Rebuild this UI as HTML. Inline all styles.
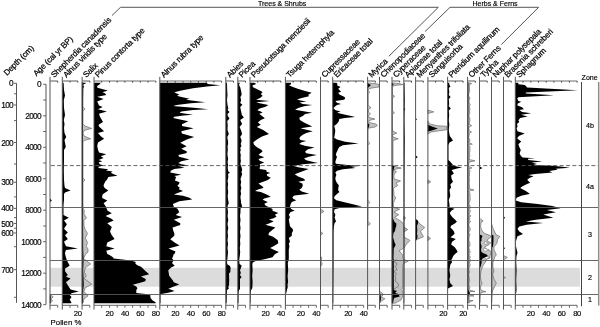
<!DOCTYPE html>
<html><head><meta charset="utf-8"><style>
html,body{margin:0;padding:0;background:#fff;width:600px;height:327px;overflow:hidden}
svg{display:block;filter:grayscale(1)}
text{font-family:"Liberation Sans",sans-serif;fill:#000}
.lab{font-size:8.2px;letter-spacing:-0.2px;stroke:#000;stroke-width:0.22px}
.n{font-size:7.7px;letter-spacing:-0.35px;stroke:#000;stroke-width:0.15px}
.n2{font-size:8.3px;letter-spacing:-0.7px;stroke:#000;stroke-width:0.15px}
.n3{font-size:7.8px;stroke:#000;stroke-width:0.15px}
.h{font-size:7.0px;stroke:#000;stroke-width:0.15px}
.z{font-size:7.1px;stroke:#000;stroke-width:0.15px}
</style></head><body>
<svg width="600" height="327" viewBox="0 0 600 327">
<rect width="600" height="327" fill="#fff"/>
<rect x="50.5" y="267.8" width="529.5" height="18.9" fill="#dcdcdc"/>
<polygon points="82.1,82.7 83.0,82.7 83.0,107.0 85.0,109.2 83.0,111.0 83.0,124.0 85.0,126.0 91.7,128.4 84.0,130.5 83.0,133.0 84.0,136.0 90.7,138.8 84.0,140.5 83.0,142.0 83.0,178.0 85.0,180.0 83.0,182.0 83.0,205.0 83.0,208.0 84.3,210.5 84.0,214.0 86.5,217.8 83.9,220.6 84.0,226.0 85.2,229.8 87.6,233.4 85.2,238.0 87.6,242.6 86.2,246.2 88.0,249.0 88.0,252.0 85.3,254.8 83.5,258.4 87.1,261.2 90.7,263.9 85.3,267.6 84.3,272.2 86.2,275.8 84.3,278.6 91.7,284.1 85.3,287.7 84.0,291.4 88.0,296.0 84.0,298.8 83.0,303.2 82.1,303.2" fill="#c2c2c2" stroke="#5a5a5a" stroke-width="0.6"/>
<polygon points="50.0,294.5 50.0,294.5 53.2,296.9 51.0,298.8 52.6,300.8 50.2,303.2 50.0,303.2" fill="#c2c2c2" stroke="#5a5a5a" stroke-width="0.6"/>
<polygon points="320.5,209.0 320.5,209.0 324.0,211.4 320.5,213.5 320.5,213.5" fill="#c2c2c2" stroke="#5a5a5a" stroke-width="0.6"/>
<polygon points="320.5,231.5 320.5,231.5 322.9,233.4 320.5,235.5 320.5,235.5" fill="#c2c2c2" stroke="#5a5a5a" stroke-width="0.6"/>
<polygon points="320.5,256.0 320.5,256.0 321.8,258.0 321.0,261.0 322.3,264.0 320.5,267.0 320.5,267.0" fill="#c2c2c2" stroke="#5a5a5a" stroke-width="0.6"/>
<polygon points="367.6,82.9 367.6,82.9 375.0,83.5 379.0,84.5 379.0,87.0 372.0,88.0 368.5,89.0 368.2,91.0 369.8,92.3 368.2,93.5 368.2,105.0 370.5,107.3 370.8,108.0 368.3,109.5 368.5,112.0 370.5,113.8 368.5,115.5 369.0,117.5 374.9,119.0 369.0,120.5 368.5,122.0 371.0,123.0 376.0,124.0 377.3,125.5 375.0,127.0 369.0,128.0 368.2,129.5 368.0,131.0 368.0,141.0 369.6,143.3 368.0,145.5 368.0,200.0 369.7,202.4 368.0,204.5 368.0,221.5 370.4,223.7 367.6,226.0 367.6,226.0" fill="#c2c2c2" stroke="#5a5a5a" stroke-width="0.6"/>
<polygon points="379.5,291.0 379.5,291.0 383.4,294.2 381.5,296.9 384.9,298.8 380.7,301.5 379.8,303.2 379.5,303.2" fill="#c2c2c2" stroke="#5a5a5a" stroke-width="0.6"/>
<polygon points="392.0,82.9 392.3,82.9 398.0,83.5 403.0,84.5 395.0,85.5 392.5,86.5 392.5,94.5 394.6,96.3 392.5,98.0 392.5,111.0 394.4,112.7 392.5,114.4 392.5,131.0 396.8,133.0 392.5,135.0 393.0,137.0 398.3,138.8 393.0,140.5 393.0,166.0 401.4,168.1 394.0,169.5 396.5,172.0 394.0,174.0 394.0,179.0 400.5,180.9 396.0,183.0 397.8,185.5 393.5,188.0 394.0,194.0 394.0,196.0 396.0,197.7 394.5,200.0 393.3,203.7 393.5,207.3 399.7,209.2 394.0,212.0 398.8,214.7 394.5,217.4 397.8,219.3 399.8,220.5 403.2,223.3 403.9,227.4 407.3,229.4 403.9,231.5 403.9,234.3 403.9,237.0 410.0,240.4 406.6,244.0 403.9,248.0 399.0,250.8 401.5,253.2 402.7,255.0 402.7,258.0 404.8,259.8 408.2,261.2 405.4,262.6 403.4,263.9 402.7,266.0 402.7,288.0 402.0,289.4 402.5,292.0 403.0,294.0 402.5,297.0 401.0,300.0 395.0,303.2 392.0,303.2" fill="#c2c2c2" stroke="#5a5a5a" stroke-width="0.6"/>
<polygon points="403.8,216.0 403.8,216.0 405.6,218.0 403.8,220.0 403.8,220.0" fill="#c2c2c2" stroke="#5a5a5a" stroke-width="0.6"/>
<polygon points="403.8,227.0 403.8,227.0 407.5,229.6 403.8,232.0 403.8,232.0" fill="#c2c2c2" stroke="#5a5a5a" stroke-width="0.6"/>
<polygon points="415.6,219.0 415.6,219.0 417.4,220.3 419.2,223.3 424.7,227.6 420.4,231.3 423.5,236.8 417.4,239.3 415.6,240.5 415.6,240.5" fill="#c2c2c2" stroke="#5a5a5a" stroke-width="0.6"/>
<polygon points="427.9,110.0 428.0,110.0 433.8,111.9 428.0,113.5 427.9,113.5" fill="#c2c2c2" stroke="#5a5a5a" stroke-width="0.6"/>
<polygon points="427.9,121.0 428.0,121.0 428.6,122.2 430.0,124.0 437.3,125.7 446.7,126.3 446.7,129.8 438.5,130.9 431.0,132.0 429.2,133.3 428.0,134.0 427.9,134.0" fill="#c2c2c2" stroke="#5a5a5a" stroke-width="0.6"/>
<polygon points="427.9,180.0 428.0,180.0 430.8,181.8 428.0,183.5 427.9,183.5" fill="#c2c2c2" stroke="#5a5a5a" stroke-width="0.6"/>
<polygon points="427.9,236.5 428.0,236.5 430.5,238.5 428.0,240.5 427.9,240.5" fill="#c2c2c2" stroke="#5a5a5a" stroke-width="0.6"/>
<polygon points="467.6,82.7 469.1,82.7 471.7,83.5 469.2,84.8 469.5,84.9 469.3,87.1 469.6,89.3 469.6,91.5 468.8,93.7 468.7,95.9 470.0,98.1 469.1,100.3 469.1,102.5 470.2,104.7 469.4,106.9 470.0,109.1 469.4,111.3 469.7,113.5 468.9,115.7 469.7,117.9 470.0,120.1 469.5,122.3 469.2,124.4 469.8,124.5 471.7,125.7 469.7,126.7 469.2,127.0 468.8,128.9 469.2,130.7 469.8,131.1 471.5,132.0 469.2,133.3 469.2,135.5 468.7,137.7 470.0,139.9 469.4,142.1 469.2,142.9 472.3,144.2 469.8,144.3 469.2,145.5 470.0,146.5 469.8,148.7 470.1,150.9 469.3,153.1 469.9,155.3 469.4,157.5 469.2,159.5 470.1,159.7 475.0,160.8 470.0,161.9 469.2,162.1 468.8,164.1 468.9,166.3 469.2,166.7 472.0,168.0 469.0,168.5 469.2,169.3 470.1,170.7 469.4,172.9 469.6,175.1 469.2,177.3 469.5,179.5 469.3,181.7 469.2,183.9 469.6,186.1 469.6,188.3 469.2,188.7 474.0,190.0 470.1,190.5 469.2,191.3 469.7,192.7 470.1,194.9 470.0,197.1 470.2,199.3 469.7,201.5 468.9,203.7 470.0,205.9 470.1,208.1 469.2,209.7 470.1,210.3 470.8,211.0 469.2,212.3 469.6,212.5 469.2,214.7 471.0,216.0 469.0,216.9 469.2,217.3 469.9,219.1 469.2,220.2 469.6,221.3 470.8,221.5 469.2,222.8 469.1,223.5 468.8,225.7 470.0,227.9 470.2,230.1 468.8,232.3 469.9,234.5 469.3,236.7 468.9,238.9 469.1,241.1 469.9,243.3 470.0,245.5 468.8,247.7 469.6,249.9 469.2,250.7 470.6,252.0 468.8,252.1 469.2,253.3 469.8,254.3 469.2,255.7 469.2,256.5 470.6,257.0 469.2,258.3 470.0,258.7 470.2,260.9 469.5,263.1 470.2,265.3 469.2,267.5 468.8,269.7 469.6,271.9 468.7,274.1 469.0,276.3 469.3,278.5 469.6,280.7 468.9,282.9 468.8,285.1 470.0,287.3 469.2,289.5 469.2,290.1 475.0,291.4 470.1,291.7 469.2,292.7 470.0,293.9 469.2,294.7 474.0,296.0 469.3,296.1 469.2,297.3 469.4,298.3 469.2,299.3 469.5,300.5 473.0,300.6 469.2,301.9 469.7,302.7 467.6,302.7" fill="#c2c2c2" stroke="#5a5a5a" stroke-width="0.6"/>
<polygon points="479.5,218.0 479.6,218.0 481.0,219.5 483.2,221.0 481.0,222.5 480.9,224.5 480.5,226.0 481.1,228.7 482.3,231.1 484.8,233.6 490.2,235.4 490.8,237.2 488.0,239.0 487.1,240.9 490.8,242.7 489.0,244.6 484.7,247.0 485.9,248.9 490.2,250.7 490.8,252.5 490.2,255.0 490.0,256.8 490.0,258.0 486.5,259.3 485.9,260.5 485.3,262.3 484.0,264.0 482.8,266.0 481.0,270.9 480.4,277.0 481.0,280.7 482.2,283.7 481.0,285.0 480.4,288.0 481.5,290.5 485.9,291.7 481.0,292.5 480.3,296.0 480.0,303.2 479.5,303.2" fill="#c2c2c2" stroke="#5a5a5a" stroke-width="0.6"/>
<polygon points="491.5,224.0 491.5,224.0 492.0,225.0 493.1,228.7 494.9,232.3 496.1,234.8 500.0,236.6 498.8,237.8 497.5,239.7 496.9,243.3 494.4,246.4 493.8,248.2 494.4,250.7 495.7,253.1 496.3,255.0 495.0,256.5 494.5,258.0 493.8,259.9 493.0,262.3 492.7,266.0 493.9,270.9 492.7,274.6 493.9,279.0 496.3,283.1 495.1,285.5 493.9,288.0 492.7,290.5 492.2,294.0 491.8,303.2 491.5,303.2" fill="#c2c2c2" stroke="#5a5a5a" stroke-width="0.6"/>
<polygon points="503.5,255.5 503.5,255.5 507.3,257.4 503.5,259.9 503.5,259.9" fill="#c2c2c2" stroke="#5a5a5a" stroke-width="0.6"/>
<polygon points="503.5,276.4 503.5,276.4 505.5,277.6 503.5,278.9 503.5,278.9" fill="#c2c2c2" stroke="#5a5a5a" stroke-width="0.6"/>
<polygon points="485,241.5 488.5,243 485.5,244.6 484.3,243" fill="#fff" stroke="#666" stroke-width="0.5"/>
<polygon points="484,248 488.8,249.8 485,251.5 483.5,249.8" fill="#fff" stroke="#666" stroke-width="0.5"/>
<polygon points="485.5,255.8 489.5,257.5 486,259.2 485,257.5" fill="#fff" stroke="#666" stroke-width="0.5"/>
<polyline points="396.5,259.1 394.4,261.9 397.2,263.9 395.1,266.7 397.2,269.4 393.8,271.5 396.5,273.6 395.1,275.6 395.8,278.4 395.1,281.1 397.9,283.2 398.6,286 395.8,288 393.8,289.4" fill="none" stroke="#555" stroke-width="0.6"/>
<polygon points="94.0,82.7 100.8,82.7 99.5,84.5 97.1,86.1 97.4,87.8 107.8,90.5 102.5,92.3 104.8,93.2 106.3,94.9 97.2,96.7 103.6,99.1 97.2,101.5 99.0,105.5 102.7,107.0 98.0,109.2 106.9,111.5 99.0,113.8 99.9,116.5 103.0,122.0 98.6,124.8 99.0,126.6 104.1,131.2 98.0,133.0 100.8,136.3 104.1,138.8 98.0,142.4 97.2,146.1 98.0,149.8 99.0,152.5 106.3,154.3 100.8,156.2 103.6,158.0 98.6,160.0 102.2,161.2 98.6,162.4 99.8,164.3 103.5,165.5 98.6,166.7 98.6,168.0 108.3,169.2 106.0,170.4 112.6,171.6 110.8,172.8 113.2,174.1 117.5,175.7 108.3,177.1 107.1,179.6 105.3,181.4 104.1,183.9 103.5,185.7 104.7,188.1 108.3,190.6 105.3,192.4 102.8,194.3 102.2,196.1 102.2,197.9 107.3,200.4 103.6,203.2 106.3,207.2 107.3,210.5 111.8,213.3 105.5,216.0 111.0,218.5 113.7,220.6 107.3,223.3 111.8,227.0 110.0,231.6 111.8,235.3 114.6,238.9 107.3,242.6 106.3,246.2 114.6,248.6 106.3,250.8 107.3,254.0 109.5,255.0 113.0,257.3 113.6,258.5 124.7,259.7 131.7,260.8 135.8,262.0 135.2,263.2 136.9,264.9 141.0,266.7 142.8,268.4 145.7,271.3 149.2,274.3 141.0,276.6 145.7,278.9 145.7,280.1 145.2,281.2 141.0,282.4 132.8,284.7 136.3,286.4 137.5,288.2 136.3,289.9 136.3,293.1 145.7,294.0 150.3,295.2 150.5,298.0 152.7,300.4 155.6,302.2 155.6,303.3 94.0,303.3" fill="#000"/>
<polygon points="159.8,82.7 207.0,82.7 207.6,84.1 220.4,85.3 207.0,86.4 193.0,88.2 181.3,90.5 174.3,92.3 176.7,93.4 179.6,94.6 177.2,95.2 178.4,96.3 183.7,97.5 189.5,98.7 186.0,99.8 195.3,101.0 205.3,102.2 190.7,103.3 176.7,105.1 173.2,105.9 181.3,106.8 196.5,108.0 208.2,109.2 193.0,110.1 181.3,111.5 179.6,112.7 186.0,113.8 193.0,114.8 183.7,115.6 174.3,116.8 173.2,118.0 180.0,119.5 188.3,121.3 182.0,124.2 182.0,126.0 193.6,128.3 181.3,131.2 181.9,133.5 194.2,137.0 187.3,139.3 180.2,142.8 186.6,146.3 181.3,148.7 186.0,151.0 187.2,152.0 186.0,153.2 178.4,154.9 179.0,156.7 183.1,157.8 189.5,159.6 181.3,161.3 178.4,163.1 181.3,164.3 188.9,165.4 179.0,166.6 184.8,167.8 174.3,168.9 170.8,170.7 170.3,172.4 175.5,173.6 181.3,174.8 174.3,175.9 176.1,177.1 175.5,178.8 174.9,180.6 179.6,182.3 179.0,184.1 177.3,185.8 179.6,187.6 179.0,189.3 183.0,191.0 175.7,193.8 173.8,194.6 183.0,195.8 189.4,197.7 192.2,199.5 179.3,201.3 172.9,204.1 173.8,206.8 177.5,208.7 179.3,212.3 175.7,215.1 182.1,216.9 173.8,219.7 180.3,223.3 180.2,225.0 172.6,227.5 173.2,230.4 174.3,233.3 174.3,235.7 170.3,239.2 175.0,242.7 179.6,245.6 168.5,248.5 175.5,251.4 174.3,254.3 172.9,254.8 173.5,255.5 172.0,258.4 173.8,260.3 172.0,263.0 174.7,265.8 171.1,267.6 168.3,270.3 169.2,275.8 172.9,280.4 173.8,282.3 179.3,284.6 173.8,286.5 168.3,288.7 174.7,290.9 168.3,292.7 161.0,294.0 160.5,295.0 160.5,303.2 159.8,303.2" fill="#000"/>
<polygon points="62.3,82.7 63.6,82.7 64.0,90.0 65.0,95.4 63.8,100.0 64.0,108.0 65.0,115.0 63.8,120.0 64.5,124.0 64.0,128.0 64.5,133.0 66.2,137.0 64.5,140.0 65.8,147.0 64.0,150.0 64.0,160.0 63.8,170.0 64.0,180.0 64.5,186.0 65.0,188.0 70.6,190.6 65.0,192.5 64.0,194.0 64.0,200.0 63.5,205.0 63.5,215.0 68.8,217.8 64.0,220.6 66.9,224.2 64.0,228.8 67.8,232.5 65.0,235.3 67.8,238.9 64.0,241.7 66.0,246.2 77.9,248.6 66.0,249.9 65.0,252.7 65.1,254.0 66.0,257.5 66.9,260.3 69.7,265.8 65.1,268.5 65.1,271.3 67.8,274.9 66.0,276.8 70.6,278.6 66.0,282.3 68.8,286.8 70.6,289.6 78.8,291.4 71.5,293.3 69.7,295.1 71.5,296.9 69.7,299.7 71.5,302.4 71.0,303.2 62.3,303.2" fill="#000"/>
<polygon points="82.1,82.7 85.8,82.7 85.6,83.6 83.4,84.3 83.3,86.0 84.3,86.9 83.2,87.8 83.0,100.0 83.0,200.0 83.2,250.0 83.6,260.0 83.2,270.0 83.8,285.0 83.2,290.0 83.0,303.2 82.1,303.2" fill="#000"/>
<polygon points="50.0,198.5 50.0,198.5 51.8,200.4 50.0,202.3 50.0,202.3" fill="#000"/>
<polygon points="50.0,294.5 50.0,294.5 50.8,297.0 50.6,300.0 50.5,303.2 50.0,303.2" fill="#000"/>
<polygon points="225.8,82.7 227.0,82.7 227.2,90.0 227.5,95.0 227.0,100.0 227.5,105.0 228.3,108.4 227.5,110.0 229.5,112.1 227.5,114.0 227.8,116.0 229.5,118.5 227.3,121.0 227.7,125.0 227.5,130.0 228.8,134.1 227.3,137.0 227.6,139.0 228.0,141.0 228.1,144.0 227.6,146.0 227.8,150.0 227.4,154.0 227.8,157.0 228.1,159.0 227.6,162.0 228.0,165.0 227.7,168.0 228.3,171.5 229.9,172.6 228.0,174.0 228.3,177.0 227.6,181.0 228.1,184.0 227.7,188.0 228.2,192.0 227.7,196.0 228.0,199.0 228.5,202.0 228.8,203.4 227.8,205.0 227.5,208.0 228.0,212.0 227.6,216.0 228.2,220.0 227.5,224.0 228.2,228.0 227.6,232.0 228.0,236.0 227.5,240.0 228.0,244.0 227.5,248.0 228.0,252.0 227.5,258.0 227.0,262.0 227.3,264.3 230.0,266.0 230.6,268.0 230.3,272.0 229.0,273.6 229.2,280.0 229.0,285.4 228.3,286.5 228.8,288.8 227.0,290.0 226.6,303.2 225.8,303.2" fill="#000"/>
<polygon points="237.8,82.8 239.8,82.8 239.0,85.0 240.2,87.3 241.1,91.0 241.7,94.7 240.4,97.0 241.1,100.2 240.2,102.9 242.4,104.8 240.2,107.0 241.1,111.2 241.9,114.9 243.9,117.6 240.2,120.0 242.1,124.0 239.6,127.0 241.1,130.5 242.1,134.1 240.2,137.0 241.2,139.0 241.6,141.0 240.7,144.0 241.5,146.0 240.2,148.0 240.8,150.0 240.1,152.0 240.8,155.0 240.5,158.0 240.9,161.0 240.3,164.0 241.0,166.0 241.8,168.0 242.2,170.0 241.4,172.0 242.2,174.0 241.5,176.0 240.5,179.0 241.2,182.0 240.6,185.0 241.3,188.0 240.6,191.0 241.1,194.0 240.5,196.0 240.5,198.0 241.0,201.0 241.0,203.0 241.8,205.0 242.0,207.0 240.5,208.5 240.5,212.0 240.0,216.0 240.5,220.0 240.0,224.0 240.5,228.0 240.0,232.0 240.5,236.0 240.0,240.0 240.3,244.0 239.8,248.0 240.2,252.0 239.8,256.0 239.2,260.0 239.5,264.0 241.6,265.5 241.3,267.0 240.0,270.2 240.8,272.8 240.0,275.3 241.6,277.0 240.0,279.0 240.0,282.0 240.0,288.8 239.0,290.5 238.6,292.0 238.5,303.2 237.8,303.2" fill="#000"/>
<polygon points="250.0,82.7 254.4,82.7 256.2,84.1 252.7,85.3 252.7,87.0 256.2,88.8 260.8,91.1 262.6,92.3 260.8,94.0 262.6,95.8 260.8,97.5 258.5,98.7 256.2,99.8 269.6,101.0 256.2,102.2 259.7,103.3 268.4,105.1 265.5,106.8 259.7,108.6 257.3,110.3 260.8,111.5 262.6,112.7 259.2,113.8 260.8,115.0 262.0,116.0 264.9,118.3 260.8,120.1 257.9,122.4 260.8,124.8 256.8,127.1 263.2,130.0 269.0,134.1 262.0,136.4 257.3,139.3 253.3,142.3 253.9,144.6 257.3,147.5 261.4,149.8 262.6,151.6 259.7,153.8 258.5,154.9 264.3,157.3 258.5,159.0 259.7,160.8 264.3,162.5 259.7,164.3 260.3,166.0 259.7,167.8 259.7,168.9 266.1,170.1 266.7,171.8 270.2,173.0 266.7,174.2 267.3,175.9 270.8,177.7 267.8,180.0 263.2,181.8 258.5,183.5 260.8,185.3 263.2,187.0 263.2,188.0 257.3,189.8 255.0,190.9 260.8,192.1 266.7,194.4 270.8,196.8 264.3,198.5 262.6,199.7 267.8,202.0 264.3,203.8 265.5,205.5 269.0,207.3 272.5,209.0 272.5,210.8 278.3,213.1 274.8,214.8 276.6,216.6 273.7,218.3 269.0,219.5 273.7,221.3 270.2,223.0 265.5,224.8 269.0,225.8 275.4,227.5 272.5,229.8 269.0,232.8 268.4,235.1 273.1,236.8 277.8,240.3 278.3,243.3 274.8,245.6 270.2,247.9 273.7,249.7 278.9,252.0 274.8,254.3 272.5,257.3 265.5,259.0 259.7,260.2 255.0,261.3 252.8,262.5 252.3,264.0 252.6,270.0 252.2,276.0 252.6,282.0 252.3,288.0 251.0,290.5 250.6,294.5 250.5,303.2 250.0,303.2" fill="#000"/>
<polygon points="285.4,82.8 291.0,82.8 291.0,84.3 289.0,85.3 292.3,86.7 297.7,88.7 304.3,90.7 311.7,92.7 308.3,94.7 309.0,96.3 301.7,98.0 297.0,99.6 300.5,100.4 306.3,101.6 299.4,102.4 302.8,103.9 312.2,105.1 304.0,106.3 298.2,108.0 295.1,109.8 302.2,110.9 312.2,112.7 305.2,114.1 302.8,116.0 299.3,117.8 299.9,120.1 304.0,122.4 308.7,124.8 312.2,126.5 300.5,128.3 307.5,130.0 312.8,131.2 306.3,132.9 302.8,134.7 300.5,136.4 299.3,138.2 300.5,139.9 306.3,141.1 301.6,142.3 299.3,144.0 304.8,145.8 314.5,147.5 308.0,149.3 305.6,151.0 305.2,152.0 306.3,153.2 316.8,154.9 308.7,156.7 304.0,158.4 306.3,160.2 313.3,161.9 318.0,163.1 302.8,164.3 294.1,166.0 298.2,167.2 308.7,168.9 304.0,170.7 299.3,172.4 294.7,174.2 298.2,176.5 304.0,178.8 305.2,180.6 298.2,181.8 302.3,183.5 302.8,185.8 301.7,188.0 299.3,189.8 301.7,191.5 309.3,193.8 294.4,195.6 292.3,197.3 293.5,199.1 296.4,200.3 291.8,202.0 290.6,204.3 290.0,206.7 291.2,209.0 294.7,210.8 290.6,211.9 288.8,214.8 290.0,217.2 288.8,219.5 289.4,223.0 290.0,226.3 292.9,229.3 292.9,231.0 291.8,233.3 291.8,235.7 288.8,238.0 290.0,241.5 288.8,243.8 289.4,246.2 288.8,249.7 288.8,254.3 288.8,259.0 288.3,261.3 287.8,263.0 288.2,270.0 287.6,276.0 288.1,282.0 287.5,285.0 287.8,286.8 285.9,294.5 285.9,303.2 285.4,303.2" fill="#000"/>
<polygon points="332.7,82.7 336.4,82.7 337.6,84.1 337.0,85.3 340.5,87.0 338.2,88.8 339.9,90.5 341.1,91.7 338.2,92.8 339.4,94.6 344.6,96.9 345.2,98.7 343.7,99.8 335.3,101.0 337.0,102.8 341.1,103.9 337.0,105.1 334.7,106.8 333.5,108.6 335.8,110.3 340.5,111.5 337.0,112.7 344.2,114.4 352.3,116.2 355.0,117.0 345.0,118.0 339.3,119.0 338.8,121.3 337.0,123.7 334.1,126.0 334.7,127.8 335.3,130.7 334.7,135.3 334.1,137.7 337.0,139.4 345.2,141.8 358.6,143.5 342.8,145.3 339.3,147.0 338.2,148.8 337.5,150.5 336.4,152.7 335.8,155.0 337.0,156.7 336.4,158.5 335.8,160.3 335.3,162.0 335.8,163.8 347.5,164.9 361.5,165.7 351.0,166.7 355.7,168.1 342.8,169.2 337.0,170.8 335.3,172.5 336.4,174.8 335.8,176.6 335.3,178.3 335.8,180.7 337.0,183.0 338.8,185.3 338.1,190.0 339.4,192.1 337.0,194.1 334.6,196.2 334.0,198.3 336.3,200.3 345.6,202.4 353.9,204.4 362.1,206.5 339.5,207.9 334.6,209.3 334.0,212.0 335.4,214.8 334.6,217.5 336.0,221.6 334.6,223.0 334.0,225.8 333.6,231.3 333.6,260.0 333.3,303.2 332.7,303.2" fill="#000"/>
<polygon points="367.6,83.3 367.6,83.3 371.0,85.0 368.3,87.5 367.6,88.2 367.6,88.2" fill="#000"/>
<polygon points="367.6,122.8 367.6,122.8 369.3,124.5 369.0,127.3 367.6,128.2 367.6,128.2" fill="#000"/>
<polygon points="379.5,292.0 379.5,292.0 380.5,294.5 381.0,298.8 380.0,303.0 379.5,303.0" fill="#000"/>
<polygon points="392.0,83.0 392.0,83.0 393.8,84.5 392.0,86.0 392.0,86.0" fill="#000"/>
<polygon points="392.0,165.0 392.0,165.0 394.5,166.5 393.5,170.0 393.0,175.0 392.8,218.0 394.5,221.9 396.3,223.5 396.3,226.0 395.5,228.0 395.0,231.0 393.5,232.9 393.0,237.0 393.5,239.0 394.2,241.0 394.5,242.5 395.6,244.5 395.0,246.5 393.8,248.0 393.5,258.0 393.8,260.0 393.8,290.0 397.0,291.0 395.0,293.0 398.5,294.0 399.7,296.4 394.0,298.0 393.0,303.2 392.0,303.2" fill="#000"/>
<polygon points="403.8,108.0 403.8,108.0 405.4,109.3 403.8,110.6 403.8,110.6" fill="#000"/>
<polygon points="403.8,82.7 404.5,82.7 404.8,100.0 404.5,120.0 404.8,140.0 404.5,180.0 404.3,303.2 403.8,303.2" fill="#000"/>
<polygon points="415.6,219.5 415.6,219.5 417.5,220.3 418.0,221.5 418.0,223.3 417.0,226.0 417.3,230.0 417.0,234.0 417.5,236.0 417.3,238.5 416.2,240.0 415.6,240.5 415.6,240.5" fill="#000"/>
<polygon points="415.6,155.5 415.6,155.5 417.8,157.1 415.6,158.7 415.6,158.7" fill="#000"/>
<polygon points="415.6,118.0 415.6,118.0 417.0,119.3 415.6,120.6 415.6,120.6" fill="#000"/>
<polygon points="427.9,124.8 428.0,124.8 432.0,126.5 437.8,128.6 432.0,130.5 428.0,131.6 427.9,131.6" fill="#000"/>
<polygon points="447.6,82.7 449.5,82.7 449.0,84.0 450.4,86.5 448.8,88.0 449.3,92.0 448.8,95.0 450.6,97.0 448.8,99.0 449.2,104.0 448.7,106.0 450.8,108.4 448.8,110.5 449.2,115.0 448.8,120.0 449.3,125.0 448.8,130.0 449.2,133.0 449.8,136.0 451.5,138.2 453.0,140.6 449.5,142.4 448.5,145.0 448.5,160.0 450.3,161.7 453.0,165.0 455.8,166.3 462.2,167.5 458.0,168.3 451.6,169.9 453.9,173.6 451.1,175.4 451.6,179.1 453.0,181.8 450.3,184.6 451.1,187.3 449.5,190.0 450.3,196.0 448.8,200.0 449.5,204.7 449.5,207.6 454.6,208.8 451.6,210.5 449.8,212.8 450.4,214.6 452.2,216.9 454.6,219.3 456.9,221.6 455.2,223.3 451.0,225.7 450.4,227.4 452.2,229.2 454.0,231.5 454.6,233.8 452.8,235.6 450.4,237.3 455.8,238.9 452.1,241.7 451.1,244.4 454.8,247.2 456.7,249.9 457.6,252.0 455.3,253.8 453.4,255.7 452.1,258.4 451.1,260.3 452.1,262.1 450.3,264.8 449.4,270.3 450.3,275.8 449.4,279.5 450.3,283.2 453.0,285.9 449.4,287.7 447.6,288.7 447.6,288.7" fill="#000"/>
<polygon points="467.6,82.7 468.4,82.7 468.3,150.0 468.4,290.0 470.0,293.3 468.4,296.0 468.2,303.2 467.6,303.2" fill="#000"/>
<polygon points="479.5,234.5 479.5,234.5 482.2,235.4 482.2,237.2 481.5,238.0 481.5,240.9 480.6,241.5 480.9,244.0 481.5,245.6 481.5,248.0 481.0,249.5 481.5,252.0 483.0,253.1 486.5,254.5 487.7,255.6 487.2,256.5 484.5,257.5 482.3,258.7 481.6,260.5 481.6,263.0 480.8,266.0 480.1,268.0 480.0,300.0 479.8,303.2 479.5,303.2" fill="#000"/>
<polygon points="479.5,166.5 479.5,166.5 482.5,168.0 479.5,169.5 479.5,169.5" fill="#000"/>
<polygon points="491.5,234.5 491.5,234.5 493.5,235.5 493.5,240.0 493.3,244.0 493.0,246.5 492.2,247.5 492.2,260.0 492.2,292.0 491.5,294.0 491.5,294.0" fill="#000"/>
<polygon points="503.5,216.0 503.5,216.0 505.0,217.8 503.5,219.5 503.5,219.5" fill="#000"/>
<polygon points="503.5,246.8 503.5,246.8 505.0,248.2 503.5,249.6 503.5,249.6" fill="#000"/>
<polygon points="515.3,82.8 518.3,82.8 518.3,84.3 524.8,84.9 526.4,86.5 527.0,87.6 577.8,90.3 525.8,92.5 525.8,93.5 554.0,95.2 518.3,97.3 517.2,98.4 517.5,99.1 518.4,100.9 521.2,101.8 517.5,103.7 517.5,105.5 522.1,107.3 523.9,109.2 519.3,110.1 522.1,111.9 531.3,113.2 521.2,114.7 527.6,116.5 520.2,118.0 518.4,120.2 519.3,122.0 517.1,123.8 517.5,126.6 516.6,128.4 517.5,131.2 524.8,133.4 519.3,135.8 517.5,137.6 517.5,138.8 521.2,141.5 518.4,144.2 519.3,147.0 520.8,150.0 520.2,151.8 519.6,153.5 520.8,155.8 522.5,157.6 535.3,158.2 528.0,158.8 528.3,159.9 542.3,161.4 531.8,162.6 537.1,164.0 533.0,164.9 552.8,165.8 564.5,166.9 569.8,167.7 555.8,168.7 557.5,169.8 549.3,171.0 552.3,172.4 535.3,173.9 528.3,175.1 533.6,176.3 529.5,178.0 527.2,179.8 528.3,180.9 530.1,182.7 526.0,184.4 522.5,186.2 520.2,188.0 525.8,191.0 529.4,193.4 529.4,194.0 521.2,195.8 516.6,197.7 515.8,200.4 521.2,202.3 537.7,204.1 552.3,205.9 560.6,208.3 546.8,210.1 556.0,212.3 543.2,214.5 553.3,217.8 535.8,219.7 525.8,221.5 543.2,223.0 526.7,224.8 519.3,226.6 517.5,228.8 519.3,231.6 523.0,234.0 517.5,236.2 516.6,238.9 515.8,241.7 515.8,245.3 516.6,249.0 517.5,252.7 516.5,256.0 516.2,262.0 516.6,270.0 516.2,280.0 516.6,290.0 516.0,294.0 515.8,303.2 515.3,303.2" fill="#000"/>
<line x1="50" y1="165.6" x2="598.5" y2="165.6" stroke="#555" stroke-width="0.9" stroke-dasharray="4,2.36" stroke-dashoffset="5.56"/>
<line x1="50" y1="207.5" x2="598.5" y2="207.5" stroke="#555" stroke-width="0.9"/>
<line x1="50" y1="260.5" x2="598.5" y2="260.5" stroke="#555" stroke-width="0.9"/>
<line x1="50" y1="294.5" x2="598.5" y2="294.5" stroke="#555" stroke-width="0.9"/>
<line x1="50.0" y1="76.8" x2="50.0" y2="309.6" stroke="#555" stroke-width="1"/>
<line x1="50.0" y1="81.0" x2="57.7" y2="81.0" stroke="#6e6e6e" stroke-width="1.15"/>
<line x1="50.0" y1="305.3" x2="57.7" y2="305.3" stroke="#555" stroke-width="0.9"/>
<line x1="57.7" y1="81.0" x2="57.7" y2="82.6" stroke="#333" stroke-width="0.9"/>
<line x1="57.7" y1="305.3" x2="57.7" y2="307.8" stroke="#555" stroke-width="0.9"/>
<text class="lab" transform="translate(54.2,78.1) rotate(-45)">Shepherdia canadensis</text>
<line x1="62.3" y1="76.8" x2="62.3" y2="309.6" stroke="#555" stroke-width="1"/>
<line x1="62.3" y1="81.0" x2="77.8" y2="81.0" stroke="#6e6e6e" stroke-width="1.15"/>
<line x1="62.3" y1="305.3" x2="77.8" y2="305.3" stroke="#555" stroke-width="0.9"/>
<line x1="70.0" y1="81.0" x2="70.0" y2="82.6" stroke="#333" stroke-width="0.9"/>
<line x1="70.0" y1="305.3" x2="70.0" y2="307.8" stroke="#555" stroke-width="0.9"/>
<line x1="77.8" y1="81.0" x2="77.8" y2="82.6" stroke="#333" stroke-width="0.9"/>
<line x1="77.8" y1="305.3" x2="77.8" y2="307.8" stroke="#555" stroke-width="0.9"/>
<text x="77.8" y="315.8" class="n" text-anchor="middle">20</text>
<text class="lab" transform="translate(66.5,78.1) rotate(-45)">Alnus viridis type</text>
<line x1="82.1" y1="76.8" x2="82.1" y2="309.6" stroke="#555" stroke-width="1"/>
<line x1="82.1" y1="81.0" x2="89.8" y2="81.0" stroke="#6e6e6e" stroke-width="1.15"/>
<line x1="82.1" y1="305.3" x2="89.8" y2="305.3" stroke="#555" stroke-width="0.9"/>
<line x1="89.8" y1="81.0" x2="89.8" y2="82.6" stroke="#333" stroke-width="0.9"/>
<line x1="89.8" y1="305.3" x2="89.8" y2="307.8" stroke="#555" stroke-width="0.9"/>
<text class="lab" transform="translate(86.3,78.1) rotate(-45)">Salix</text>
<line x1="94.0" y1="76.8" x2="94.0" y2="309.6" stroke="#555" stroke-width="1"/>
<line x1="94.0" y1="81.0" x2="155.8" y2="81.0" stroke="#6e6e6e" stroke-width="1.15"/>
<line x1="94.0" y1="305.3" x2="155.8" y2="305.3" stroke="#555" stroke-width="0.9"/>
<line x1="101.7" y1="81.0" x2="101.7" y2="82.6" stroke="#333" stroke-width="0.9"/>
<line x1="101.7" y1="305.3" x2="101.7" y2="307.8" stroke="#555" stroke-width="0.9"/>
<line x1="109.5" y1="81.0" x2="109.5" y2="82.6" stroke="#333" stroke-width="0.9"/>
<line x1="109.5" y1="305.3" x2="109.5" y2="307.8" stroke="#555" stroke-width="0.9"/>
<line x1="117.2" y1="81.0" x2="117.2" y2="82.6" stroke="#333" stroke-width="0.9"/>
<line x1="117.2" y1="305.3" x2="117.2" y2="307.8" stroke="#555" stroke-width="0.9"/>
<line x1="124.9" y1="81.0" x2="124.9" y2="82.6" stroke="#333" stroke-width="0.9"/>
<line x1="124.9" y1="305.3" x2="124.9" y2="307.8" stroke="#555" stroke-width="0.9"/>
<line x1="132.6" y1="81.0" x2="132.6" y2="82.6" stroke="#333" stroke-width="0.9"/>
<line x1="132.6" y1="305.3" x2="132.6" y2="307.8" stroke="#555" stroke-width="0.9"/>
<line x1="140.3" y1="81.0" x2="140.3" y2="82.6" stroke="#333" stroke-width="0.9"/>
<line x1="140.3" y1="305.3" x2="140.3" y2="307.8" stroke="#555" stroke-width="0.9"/>
<line x1="148.1" y1="81.0" x2="148.1" y2="82.6" stroke="#333" stroke-width="0.9"/>
<line x1="148.1" y1="305.3" x2="148.1" y2="307.8" stroke="#555" stroke-width="0.9"/>
<line x1="155.8" y1="81.0" x2="155.8" y2="82.6" stroke="#333" stroke-width="0.9"/>
<line x1="155.8" y1="305.3" x2="155.8" y2="307.8" stroke="#555" stroke-width="0.9"/>
<text x="109.5" y="315.8" class="n" text-anchor="middle">20</text>
<text x="124.9" y="315.8" class="n" text-anchor="middle">40</text>
<text x="140.3" y="315.8" class="n" text-anchor="middle">60</text>
<text x="155.8" y="315.8" class="n" text-anchor="middle">80</text>
<text class="lab" transform="translate(98.2,78.1) rotate(-45)">Pinus contorta type</text>
<line x1="159.8" y1="76.8" x2="159.8" y2="309.6" stroke="#555" stroke-width="1"/>
<line x1="159.8" y1="81.0" x2="221.6" y2="81.0" stroke="#6e6e6e" stroke-width="1.15"/>
<line x1="159.8" y1="305.3" x2="221.6" y2="305.3" stroke="#555" stroke-width="0.9"/>
<line x1="167.5" y1="81.0" x2="167.5" y2="82.6" stroke="#333" stroke-width="0.9"/>
<line x1="167.5" y1="305.3" x2="167.5" y2="307.8" stroke="#555" stroke-width="0.9"/>
<line x1="175.2" y1="81.0" x2="175.2" y2="82.6" stroke="#333" stroke-width="0.9"/>
<line x1="175.2" y1="305.3" x2="175.2" y2="307.8" stroke="#555" stroke-width="0.9"/>
<line x1="183.0" y1="81.0" x2="183.0" y2="82.6" stroke="#333" stroke-width="0.9"/>
<line x1="183.0" y1="305.3" x2="183.0" y2="307.8" stroke="#555" stroke-width="0.9"/>
<line x1="190.7" y1="81.0" x2="190.7" y2="82.6" stroke="#333" stroke-width="0.9"/>
<line x1="190.7" y1="305.3" x2="190.7" y2="307.8" stroke="#555" stroke-width="0.9"/>
<line x1="198.4" y1="81.0" x2="198.4" y2="82.6" stroke="#333" stroke-width="0.9"/>
<line x1="198.4" y1="305.3" x2="198.4" y2="307.8" stroke="#555" stroke-width="0.9"/>
<line x1="206.2" y1="81.0" x2="206.2" y2="82.6" stroke="#333" stroke-width="0.9"/>
<line x1="206.2" y1="305.3" x2="206.2" y2="307.8" stroke="#555" stroke-width="0.9"/>
<line x1="213.9" y1="81.0" x2="213.9" y2="82.6" stroke="#333" stroke-width="0.9"/>
<line x1="213.9" y1="305.3" x2="213.9" y2="307.8" stroke="#555" stroke-width="0.9"/>
<line x1="221.6" y1="81.0" x2="221.6" y2="82.6" stroke="#333" stroke-width="0.9"/>
<line x1="221.6" y1="305.3" x2="221.6" y2="307.8" stroke="#555" stroke-width="0.9"/>
<text x="175.2" y="315.8" class="n" text-anchor="middle">20</text>
<text x="190.7" y="315.8" class="n" text-anchor="middle">40</text>
<text x="206.2" y="315.8" class="n" text-anchor="middle">60</text>
<text x="221.6" y="315.8" class="n" text-anchor="middle">80</text>
<text class="lab" transform="translate(164.0,78.1) rotate(-45)">Alnus rubra type</text>
<line x1="225.8" y1="76.8" x2="225.8" y2="309.6" stroke="#555" stroke-width="1"/>
<line x1="225.8" y1="81.0" x2="233.5" y2="81.0" stroke="#6e6e6e" stroke-width="1.15"/>
<line x1="225.8" y1="305.3" x2="233.5" y2="305.3" stroke="#555" stroke-width="0.9"/>
<line x1="233.5" y1="81.0" x2="233.5" y2="82.6" stroke="#333" stroke-width="0.9"/>
<line x1="233.5" y1="305.3" x2="233.5" y2="307.8" stroke="#555" stroke-width="0.9"/>
<text class="lab" transform="translate(230.0,78.1) rotate(-45)">Abies</text>
<line x1="237.8" y1="76.8" x2="237.8" y2="309.6" stroke="#555" stroke-width="1"/>
<line x1="237.8" y1="81.0" x2="245.5" y2="81.0" stroke="#6e6e6e" stroke-width="1.15"/>
<line x1="237.8" y1="305.3" x2="245.5" y2="305.3" stroke="#555" stroke-width="0.9"/>
<line x1="245.5" y1="81.0" x2="245.5" y2="82.6" stroke="#333" stroke-width="0.9"/>
<line x1="245.5" y1="305.3" x2="245.5" y2="307.8" stroke="#555" stroke-width="0.9"/>
<text class="lab" transform="translate(242.0,78.1) rotate(-45)">Picea</text>
<line x1="250.0" y1="76.8" x2="250.0" y2="309.6" stroke="#555" stroke-width="1"/>
<line x1="250.0" y1="81.0" x2="280.9" y2="81.0" stroke="#6e6e6e" stroke-width="1.15"/>
<line x1="250.0" y1="305.3" x2="280.9" y2="305.3" stroke="#555" stroke-width="0.9"/>
<line x1="257.7" y1="81.0" x2="257.7" y2="82.6" stroke="#333" stroke-width="0.9"/>
<line x1="257.7" y1="305.3" x2="257.7" y2="307.8" stroke="#555" stroke-width="0.9"/>
<line x1="265.4" y1="81.0" x2="265.4" y2="82.6" stroke="#333" stroke-width="0.9"/>
<line x1="265.4" y1="305.3" x2="265.4" y2="307.8" stroke="#555" stroke-width="0.9"/>
<line x1="273.2" y1="81.0" x2="273.2" y2="82.6" stroke="#333" stroke-width="0.9"/>
<line x1="273.2" y1="305.3" x2="273.2" y2="307.8" stroke="#555" stroke-width="0.9"/>
<line x1="280.9" y1="81.0" x2="280.9" y2="82.6" stroke="#333" stroke-width="0.9"/>
<line x1="280.9" y1="305.3" x2="280.9" y2="307.8" stroke="#555" stroke-width="0.9"/>
<text x="265.4" y="315.8" class="n" text-anchor="middle">20</text>
<text x="280.9" y="315.8" class="n" text-anchor="middle">40</text>
<text class="lab" transform="translate(254.2,78.1) rotate(-45)">Pseudotsuga menziesii</text>
<line x1="285.4" y1="76.8" x2="285.4" y2="309.6" stroke="#555" stroke-width="1"/>
<line x1="285.4" y1="81.0" x2="316.3" y2="81.0" stroke="#6e6e6e" stroke-width="1.15"/>
<line x1="285.4" y1="305.3" x2="316.3" y2="305.3" stroke="#555" stroke-width="0.9"/>
<line x1="293.1" y1="81.0" x2="293.1" y2="82.6" stroke="#333" stroke-width="0.9"/>
<line x1="293.1" y1="305.3" x2="293.1" y2="307.8" stroke="#555" stroke-width="0.9"/>
<line x1="300.8" y1="81.0" x2="300.8" y2="82.6" stroke="#333" stroke-width="0.9"/>
<line x1="300.8" y1="305.3" x2="300.8" y2="307.8" stroke="#555" stroke-width="0.9"/>
<line x1="308.6" y1="81.0" x2="308.6" y2="82.6" stroke="#333" stroke-width="0.9"/>
<line x1="308.6" y1="305.3" x2="308.6" y2="307.8" stroke="#555" stroke-width="0.9"/>
<line x1="316.3" y1="81.0" x2="316.3" y2="82.6" stroke="#333" stroke-width="0.9"/>
<line x1="316.3" y1="305.3" x2="316.3" y2="307.8" stroke="#555" stroke-width="0.9"/>
<text x="300.8" y="315.8" class="n" text-anchor="middle">20</text>
<text x="316.3" y="315.8" class="n" text-anchor="middle">40</text>
<text class="lab" transform="translate(289.6,78.1) rotate(-45)">Tsuga heterophyla</text>
<line x1="320.5" y1="76.8" x2="320.5" y2="309.6" stroke="#555" stroke-width="1"/>
<line x1="320.5" y1="81.0" x2="328.2" y2="81.0" stroke="#6e6e6e" stroke-width="1.15"/>
<line x1="320.5" y1="305.3" x2="328.2" y2="305.3" stroke="#555" stroke-width="0.9"/>
<line x1="328.2" y1="81.0" x2="328.2" y2="82.6" stroke="#333" stroke-width="0.9"/>
<line x1="328.2" y1="305.3" x2="328.2" y2="307.8" stroke="#555" stroke-width="0.9"/>
<text class="lab" transform="translate(324.7,78.1) rotate(-45)">Cupressaceae</text>
<line x1="332.7" y1="76.8" x2="332.7" y2="309.6" stroke="#555" stroke-width="1"/>
<line x1="332.7" y1="81.0" x2="363.6" y2="81.0" stroke="#6e6e6e" stroke-width="1.15"/>
<line x1="332.7" y1="305.3" x2="363.6" y2="305.3" stroke="#555" stroke-width="0.9"/>
<line x1="340.4" y1="81.0" x2="340.4" y2="82.6" stroke="#333" stroke-width="0.9"/>
<line x1="340.4" y1="305.3" x2="340.4" y2="307.8" stroke="#555" stroke-width="0.9"/>
<line x1="348.1" y1="81.0" x2="348.1" y2="82.6" stroke="#333" stroke-width="0.9"/>
<line x1="348.1" y1="305.3" x2="348.1" y2="307.8" stroke="#555" stroke-width="0.9"/>
<line x1="355.9" y1="81.0" x2="355.9" y2="82.6" stroke="#333" stroke-width="0.9"/>
<line x1="355.9" y1="305.3" x2="355.9" y2="307.8" stroke="#555" stroke-width="0.9"/>
<line x1="363.6" y1="81.0" x2="363.6" y2="82.6" stroke="#333" stroke-width="0.9"/>
<line x1="363.6" y1="305.3" x2="363.6" y2="307.8" stroke="#555" stroke-width="0.9"/>
<text x="348.1" y="315.8" class="n" text-anchor="middle">20</text>
<text x="363.6" y="315.8" class="n" text-anchor="middle">40</text>
<text class="lab" transform="translate(336.9,78.1) rotate(-45)">Ericaceae total</text>
<line x1="367.6" y1="76.8" x2="367.6" y2="309.6" stroke="#555" stroke-width="1"/>
<line x1="367.6" y1="81.0" x2="375.3" y2="81.0" stroke="#6e6e6e" stroke-width="1.15"/>
<line x1="367.6" y1="305.3" x2="375.3" y2="305.3" stroke="#555" stroke-width="0.9"/>
<line x1="375.3" y1="81.0" x2="375.3" y2="82.6" stroke="#333" stroke-width="0.9"/>
<line x1="375.3" y1="305.3" x2="375.3" y2="307.8" stroke="#555" stroke-width="0.9"/>
<text class="lab" transform="translate(371.8,78.1) rotate(-45)">Myrica</text>
<line x1="379.5" y1="76.8" x2="379.5" y2="309.6" stroke="#555" stroke-width="1"/>
<line x1="379.5" y1="81.0" x2="387.2" y2="81.0" stroke="#6e6e6e" stroke-width="1.15"/>
<line x1="379.5" y1="305.3" x2="387.2" y2="305.3" stroke="#555" stroke-width="0.9"/>
<line x1="387.2" y1="81.0" x2="387.2" y2="82.6" stroke="#333" stroke-width="0.9"/>
<line x1="387.2" y1="305.3" x2="387.2" y2="307.8" stroke="#555" stroke-width="0.9"/>
<text class="lab" transform="translate(383.7,78.1) rotate(-45)">Chenopodiaceae</text>
<line x1="392.0" y1="76.8" x2="392.0" y2="309.6" stroke="#555" stroke-width="1"/>
<line x1="392.0" y1="81.0" x2="399.7" y2="81.0" stroke="#6e6e6e" stroke-width="1.15"/>
<line x1="392.0" y1="305.3" x2="399.7" y2="305.3" stroke="#555" stroke-width="0.9"/>
<line x1="399.7" y1="81.0" x2="399.7" y2="82.6" stroke="#333" stroke-width="0.9"/>
<line x1="399.7" y1="305.3" x2="399.7" y2="307.8" stroke="#555" stroke-width="0.9"/>
<text class="lab" transform="translate(396.2,78.1) rotate(-45)">Cyperaceae</text>
<line x1="403.8" y1="76.8" x2="403.8" y2="309.6" stroke="#555" stroke-width="1"/>
<line x1="403.8" y1="81.0" x2="411.5" y2="81.0" stroke="#6e6e6e" stroke-width="1.15"/>
<line x1="403.8" y1="305.3" x2="411.5" y2="305.3" stroke="#555" stroke-width="0.9"/>
<line x1="411.5" y1="81.0" x2="411.5" y2="82.6" stroke="#333" stroke-width="0.9"/>
<line x1="411.5" y1="305.3" x2="411.5" y2="307.8" stroke="#555" stroke-width="0.9"/>
<text class="lab" transform="translate(408.0,78.1) rotate(-45)">Apiaceae total</text>
<line x1="415.6" y1="76.8" x2="415.6" y2="309.6" stroke="#555" stroke-width="1"/>
<line x1="415.6" y1="81.0" x2="423.3" y2="81.0" stroke="#6e6e6e" stroke-width="1.15"/>
<line x1="415.6" y1="305.3" x2="423.3" y2="305.3" stroke="#555" stroke-width="0.9"/>
<line x1="423.3" y1="81.0" x2="423.3" y2="82.6" stroke="#333" stroke-width="0.9"/>
<line x1="423.3" y1="305.3" x2="423.3" y2="307.8" stroke="#555" stroke-width="0.9"/>
<text class="lab" transform="translate(419.8,78.1) rotate(-45)">Menyanthes trifoliata</text>
<line x1="427.9" y1="76.8" x2="427.9" y2="309.6" stroke="#555" stroke-width="1"/>
<line x1="427.9" y1="81.0" x2="443.3" y2="81.0" stroke="#6e6e6e" stroke-width="1.15"/>
<line x1="427.9" y1="305.3" x2="443.3" y2="305.3" stroke="#555" stroke-width="0.9"/>
<line x1="435.6" y1="81.0" x2="435.6" y2="82.6" stroke="#333" stroke-width="0.9"/>
<line x1="435.6" y1="305.3" x2="435.6" y2="307.8" stroke="#555" stroke-width="0.9"/>
<line x1="443.3" y1="81.0" x2="443.3" y2="82.6" stroke="#333" stroke-width="0.9"/>
<line x1="443.3" y1="305.3" x2="443.3" y2="307.8" stroke="#555" stroke-width="0.9"/>
<text x="443.3" y="315.8" class="n" text-anchor="middle">20</text>
<text class="lab" transform="translate(432.1,78.1) rotate(-45)">Sanguisorba</text>
<line x1="447.6" y1="76.8" x2="447.6" y2="309.6" stroke="#555" stroke-width="1"/>
<line x1="447.6" y1="81.0" x2="463.1" y2="81.0" stroke="#6e6e6e" stroke-width="1.15"/>
<line x1="447.6" y1="305.3" x2="463.1" y2="305.3" stroke="#555" stroke-width="0.9"/>
<line x1="455.3" y1="81.0" x2="455.3" y2="82.6" stroke="#333" stroke-width="0.9"/>
<line x1="455.3" y1="305.3" x2="455.3" y2="307.8" stroke="#555" stroke-width="0.9"/>
<line x1="463.1" y1="81.0" x2="463.1" y2="82.6" stroke="#333" stroke-width="0.9"/>
<line x1="463.1" y1="305.3" x2="463.1" y2="307.8" stroke="#555" stroke-width="0.9"/>
<text x="463.1" y="315.8" class="n" text-anchor="middle">20</text>
<text class="lab" transform="translate(451.8,78.1) rotate(-45)">Pteridium aquilinum</text>
<line x1="467.6" y1="76.8" x2="467.6" y2="309.6" stroke="#555" stroke-width="1"/>
<line x1="467.6" y1="81.0" x2="475.3" y2="81.0" stroke="#6e6e6e" stroke-width="1.15"/>
<line x1="467.6" y1="305.3" x2="475.3" y2="305.3" stroke="#555" stroke-width="0.9"/>
<line x1="475.3" y1="81.0" x2="475.3" y2="82.6" stroke="#333" stroke-width="0.9"/>
<line x1="475.3" y1="305.3" x2="475.3" y2="307.8" stroke="#555" stroke-width="0.9"/>
<text class="lab" transform="translate(471.8,78.1) rotate(-45)">Other Ferns</text>
<line x1="479.5" y1="76.8" x2="479.5" y2="309.6" stroke="#555" stroke-width="1"/>
<line x1="479.5" y1="81.0" x2="487.2" y2="81.0" stroke="#6e6e6e" stroke-width="1.15"/>
<line x1="479.5" y1="305.3" x2="487.2" y2="305.3" stroke="#555" stroke-width="0.9"/>
<line x1="487.2" y1="81.0" x2="487.2" y2="82.6" stroke="#333" stroke-width="0.9"/>
<line x1="487.2" y1="305.3" x2="487.2" y2="307.8" stroke="#555" stroke-width="0.9"/>
<text class="lab" transform="translate(483.7,78.1) rotate(-45)">Typha</text>
<line x1="491.5" y1="76.8" x2="491.5" y2="309.6" stroke="#555" stroke-width="1"/>
<line x1="491.5" y1="81.0" x2="499.2" y2="81.0" stroke="#6e6e6e" stroke-width="1.15"/>
<line x1="491.5" y1="305.3" x2="499.2" y2="305.3" stroke="#555" stroke-width="0.9"/>
<line x1="499.2" y1="81.0" x2="499.2" y2="82.6" stroke="#333" stroke-width="0.9"/>
<line x1="499.2" y1="305.3" x2="499.2" y2="307.8" stroke="#555" stroke-width="0.9"/>
<text class="lab" transform="translate(495.7,78.1) rotate(-45)">Nuphar polysepala</text>
<line x1="503.5" y1="76.8" x2="503.5" y2="309.6" stroke="#555" stroke-width="1"/>
<line x1="503.5" y1="81.0" x2="511.2" y2="81.0" stroke="#6e6e6e" stroke-width="1.15"/>
<line x1="503.5" y1="305.3" x2="511.2" y2="305.3" stroke="#555" stroke-width="0.9"/>
<line x1="511.2" y1="81.0" x2="511.2" y2="82.6" stroke="#333" stroke-width="0.9"/>
<line x1="511.2" y1="305.3" x2="511.2" y2="307.8" stroke="#555" stroke-width="0.9"/>
<text class="lab" transform="translate(507.7,78.1) rotate(-45)">Brasenia schreberi</text>
<line x1="515.3" y1="76.8" x2="515.3" y2="309.6" stroke="#555" stroke-width="1"/>
<line x1="515.3" y1="81.0" x2="577.1" y2="81.0" stroke="#6e6e6e" stroke-width="1.15"/>
<line x1="515.3" y1="305.3" x2="577.1" y2="305.3" stroke="#555" stroke-width="0.9"/>
<line x1="523.0" y1="81.0" x2="523.0" y2="82.6" stroke="#333" stroke-width="0.9"/>
<line x1="523.0" y1="305.3" x2="523.0" y2="307.8" stroke="#555" stroke-width="0.9"/>
<line x1="530.8" y1="81.0" x2="530.8" y2="82.6" stroke="#333" stroke-width="0.9"/>
<line x1="530.8" y1="305.3" x2="530.8" y2="307.8" stroke="#555" stroke-width="0.9"/>
<line x1="538.5" y1="81.0" x2="538.5" y2="82.6" stroke="#333" stroke-width="0.9"/>
<line x1="538.5" y1="305.3" x2="538.5" y2="307.8" stroke="#555" stroke-width="0.9"/>
<line x1="546.2" y1="81.0" x2="546.2" y2="82.6" stroke="#333" stroke-width="0.9"/>
<line x1="546.2" y1="305.3" x2="546.2" y2="307.8" stroke="#555" stroke-width="0.9"/>
<line x1="553.9" y1="81.0" x2="553.9" y2="82.6" stroke="#333" stroke-width="0.9"/>
<line x1="553.9" y1="305.3" x2="553.9" y2="307.8" stroke="#555" stroke-width="0.9"/>
<line x1="561.6" y1="81.0" x2="561.6" y2="82.6" stroke="#333" stroke-width="0.9"/>
<line x1="561.6" y1="305.3" x2="561.6" y2="307.8" stroke="#555" stroke-width="0.9"/>
<line x1="569.4" y1="81.0" x2="569.4" y2="82.6" stroke="#333" stroke-width="0.9"/>
<line x1="569.4" y1="305.3" x2="569.4" y2="307.8" stroke="#555" stroke-width="0.9"/>
<line x1="577.1" y1="81.0" x2="577.1" y2="82.6" stroke="#333" stroke-width="0.9"/>
<line x1="577.1" y1="305.3" x2="577.1" y2="307.8" stroke="#555" stroke-width="0.9"/>
<text x="530.8" y="315.8" class="n" text-anchor="middle">20</text>
<text x="546.2" y="315.8" class="n" text-anchor="middle">40</text>
<text x="561.6" y="315.8" class="n" text-anchor="middle">60</text>
<text x="577.1" y="315.8" class="n" text-anchor="middle">80</text>
<text class="lab" transform="translate(519.5,78.1) rotate(-45)">Sphagnum</text>
<line x1="16.5" y1="83.3" x2="16.5" y2="302.8" stroke="#555" stroke-width="1"/>
<line x1="14" y1="83.3" x2="16.5" y2="83.3" stroke="#555" stroke-width="0.9"/>
<text x="13.0" y="86.3" class="n2" text-anchor="end">0</text>
<line x1="14" y1="105" x2="16.5" y2="105" stroke="#555" stroke-width="0.9"/>
<text x="13.0" y="108.0" class="n2" text-anchor="end">100</text>
<line x1="14" y1="142.5" x2="16.5" y2="142.5" stroke="#555" stroke-width="0.9"/>
<text x="13.0" y="145.5" class="n2" text-anchor="end">200</text>
<line x1="14" y1="182.3" x2="16.5" y2="182.3" stroke="#555" stroke-width="0.9"/>
<text x="13.0" y="185.3" class="n2" text-anchor="end">300</text>
<line x1="14" y1="208.4" x2="16.5" y2="208.4" stroke="#555" stroke-width="0.9"/>
<text x="13.0" y="211.4" class="n2" text-anchor="end">400</text>
<line x1="14" y1="223.5" x2="16.5" y2="223.5" stroke="#555" stroke-width="0.9"/>
<text x="13.0" y="226.5" class="n2" text-anchor="end">500</text>
<line x1="14" y1="233.0" x2="16.5" y2="233.0" stroke="#555" stroke-width="0.9"/>
<text x="13.0" y="236.0" class="n2" text-anchor="end">600</text>
<line x1="14" y1="269.7" x2="16.5" y2="269.7" stroke="#555" stroke-width="0.9"/>
<text x="13.0" y="272.7" class="n2" text-anchor="end">700</text>
<line x1="14" y1="93.8" x2="16.5" y2="93.8" stroke="#555" stroke-width="0.9"/>
<line x1="14" y1="120.6" x2="16.5" y2="120.6" stroke="#555" stroke-width="0.9"/>
<line x1="14" y1="164" x2="16.5" y2="164" stroke="#555" stroke-width="0.9"/>
<line x1="14" y1="196.9" x2="16.5" y2="196.9" stroke="#555" stroke-width="0.9"/>
<line x1="14" y1="217.6" x2="16.5" y2="217.6" stroke="#555" stroke-width="0.9"/>
<line x1="14" y1="228.2" x2="16.5" y2="228.2" stroke="#555" stroke-width="0.9"/>
<line x1="14" y1="246.7" x2="16.5" y2="246.7" stroke="#555" stroke-width="0.9"/>
<line x1="14" y1="297.3" x2="16.5" y2="297.3" stroke="#555" stroke-width="0.9"/>
<line x1="46" y1="84.3" x2="46" y2="304.6" stroke="#555" stroke-width="1"/>
<line x1="43.2" y1="84.3" x2="46" y2="84.3" stroke="#555" stroke-width="0.9"/>
<text x="40.9" y="87.3" class="n2" text-anchor="end">0</text>
<line x1="43.2" y1="100.0" x2="46" y2="100.0" stroke="#555" stroke-width="0.9"/>
<line x1="43.2" y1="115.8" x2="46" y2="115.8" stroke="#555" stroke-width="0.9"/>
<text x="40.9" y="118.8" class="n2" text-anchor="end">2000</text>
<line x1="43.2" y1="131.5" x2="46" y2="131.5" stroke="#555" stroke-width="0.9"/>
<line x1="43.2" y1="147.3" x2="46" y2="147.3" stroke="#555" stroke-width="0.9"/>
<text x="40.9" y="150.3" class="n2" text-anchor="end">4000</text>
<line x1="43.2" y1="163.0" x2="46" y2="163.0" stroke="#555" stroke-width="0.9"/>
<line x1="43.2" y1="178.7" x2="46" y2="178.7" stroke="#555" stroke-width="0.9"/>
<text x="40.9" y="181.7" class="n2" text-anchor="end">6000</text>
<line x1="43.2" y1="194.5" x2="46" y2="194.5" stroke="#555" stroke-width="0.9"/>
<line x1="43.2" y1="210.2" x2="46" y2="210.2" stroke="#555" stroke-width="0.9"/>
<text x="40.9" y="213.2" class="n2" text-anchor="end">8000</text>
<line x1="43.2" y1="226.0" x2="46" y2="226.0" stroke="#555" stroke-width="0.9"/>
<line x1="43.2" y1="241.7" x2="46" y2="241.7" stroke="#555" stroke-width="0.9"/>
<text x="40.9" y="244.7" class="n2" text-anchor="end">10000</text>
<line x1="43.2" y1="257.4" x2="46" y2="257.4" stroke="#555" stroke-width="0.9"/>
<line x1="43.2" y1="273.2" x2="46" y2="273.2" stroke="#555" stroke-width="0.9"/>
<text x="40.9" y="276.2" class="n2" text-anchor="end">12000</text>
<line x1="43.2" y1="288.9" x2="46" y2="288.9" stroke="#555" stroke-width="0.9"/>
<line x1="43.2" y1="304.7" x2="46" y2="304.7" stroke="#555" stroke-width="0.9"/>
<text x="40.9" y="307.7" class="n2" text-anchor="end">14000</text>
<text class="lab" transform="translate(7.0,76.0) rotate(-45)">Depth (cm)</text>
<text class="lab" transform="translate(36.4,76.6) rotate(-45)">Age (cal yr BP)</text>
<text x="50.6" y="325.4" class="n3">Pollen %</text>
<polyline points="112,15.5 120.5,7.3 438.3,7.3 388.8,56.3" fill="none" stroke="#444" stroke-width="0.9"/>
<text x="258.0" y="6" class="h">Trees &amp; Shrubs</text>
<polyline points="425,31.6 450,7.3 538.6,7.3 501.3,44.6" fill="none" stroke="#444" stroke-width="0.9"/>
<text x="472.5" y="6" class="h">Herbs &amp; Ferns</text>
<line x1="581.5" y1="82" x2="581.5" y2="306.2" stroke="#444" stroke-width="1"/>
<line x1="598.7" y1="82" x2="598.7" y2="305.6" stroke="#8c8c8c" stroke-width="1.5"/>
<text x="581.6" y="79.6" class="z">Zone</text>
<text x="590" y="128.0" class="z" text-anchor="middle">4b</text>
<text x="590" y="189.3" class="z" text-anchor="middle">4a</text>
<text x="590" y="236.7" class="z" text-anchor="middle">3</text>
<text x="590" y="280.2" class="z" text-anchor="middle">2</text>
<text x="590" y="301.9" class="z" text-anchor="middle">1</text>
</svg>
</body></html>
